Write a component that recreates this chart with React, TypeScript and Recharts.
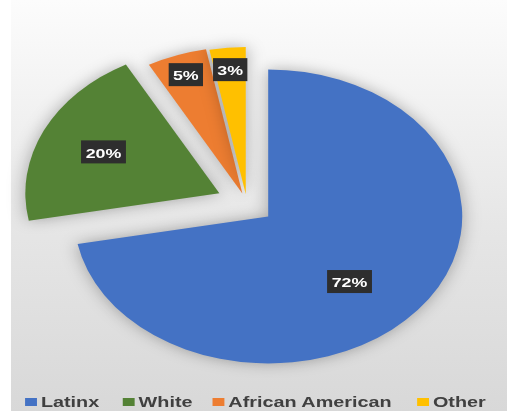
import { PieChart, Pie, Cell, Legend } from "recharts";

const categories = ["Latinx", "White", "African American", "Other"];
const shares = [72, 20, 5, 3];
const percentLabels = ["72%", "20%", "5%", "3%"];
const colors = ["#4472C4", "#548235", "#ED7D31", "#FFC000"];

// how far each slice is pulled out, and where its label sits
const explode = [21, 23, 10, 9];
const labelRadius = [0.61, 0.66, 0.86, 0.85];
const labelAngleShift = [-7, 0, 0, 0];
// legend item left edges (unstretched px)
const legendLeft = [19, 93, 161, 316];

const data = categories.map((name, i) => ({ name, value: shares[i] }));

// the original picture is stretched sideways, so draw narrow and scale
const STRETCH = 1.32;
const W = 392;
const H = 411;
const CX = 182;
const CY = 198;
const R = 147;
const RAD = Math.PI / 180;

const total = shares.reduce((a, b) => a + b, 0);
const midAngles = shares.map((v, i) => {
  const before = shares.slice(0, i).reduce((a, b) => a + b, 0);
  return 90 - ((before + v / 2) / total) * 360;
});

const renderLabel = (slice: number) => (props: any) => {
  if (props.index !== slice) return <g />;
  const { cx, cy, midAngle, outerRadius } = props;
  const r = outerRadius * labelRadius[slice];
  const a = (midAngle + labelAngleShift[slice]) * RAD;
  const x = cx + r * Math.cos(-a);
  const y = cy + r * Math.sin(-a);
  const text = percentLabels[slice];
  const bw = text.length * 8 + 10;
  return (
    <g>
      <rect x={x - bw / 2} y={y - 11.5} width={bw} height={23} fill="#2e2e2e" />
      <text
        x={x}
        y={y + 1}
        textAnchor="middle"
        dominantBaseline="central"
        fill="#ffffff"
        fontWeight="bold"
        fontSize={13.5}
        fontFamily="Liberation Sans, Arial, sans-serif"
      >
        {text}
      </text>
    </g>
  );
};

const renderLegend = () => (
  <div
    style={{
      position: "relative",
      height: 18,
      fontFamily: "Liberation Sans, Arial, sans-serif",
      fontWeight: "bold",
      fontSize: 15,
      color: "#404040",
    }}
  >
    {categories.map((name, i) => (
      <div
        key={name}
        style={{
          position: "absolute",
          left: legendLeft[i],
          top: 0,
          display: "flex",
          alignItems: "center",
          whiteSpace: "nowrap",
        }}
      >
        <span
          style={{
            display: "inline-block",
            width: 9,
            height: 8,
            background: colors[i],
            marginRight: 3,
          }}
        />
        <span>{name}</span>
      </div>
    ))}
  </div>
);

export default function App() {
  return (
    <div
      style={{
        position: "absolute",
        left: 0,
        top: 0,
        width: 517,
        height: 411,
        background: "#ffffff",
        overflow: "hidden",
      }}
    >
      <div
        style={{
          position: "absolute",
          left: 11,
          top: 0,
          width: 496,
          height: 411,
          background: "linear-gradient(#fcfcfc, #e6e6e6 55%, #d8d8d8)",
        }}
      />
      <div
        style={{
          position: "absolute",
          left: 0,
          top: 0,
          width: W,
          height: H,
          transform: `scaleX(${STRETCH})`,
          transformOrigin: "0 0",
        }}
      >
        <PieChart width={W} height={H}>
          {categories.map((name, slice) => (
            <Pie
              key={name}
              data={data}
              dataKey="value"
              nameKey="name"
              cx={CX + explode[slice] * Math.cos(-midAngles[slice] * RAD)}
              cy={CY + explode[slice] * Math.sin(-midAngles[slice] * RAD)}
              outerRadius={R}
              startAngle={90}
              endAngle={-270}
              stroke="none"
              labelLine={false}
              label={renderLabel(slice)}
              isAnimationActive={false}
            >
              {data.map((d, i) => (
                <Cell
                  key={d.name}
                  fill={i === slice ? colors[i] : "transparent"}
                  stroke="none"
                  style={
                    i === slice
                      ? { filter: "drop-shadow(0px 0px 7px rgba(0,0,0,0.3))" }
                      : undefined
                  }
                />
              ))}
            </Pie>
          ))}
          <Legend content={renderLegend} wrapperStyle={{ top: 393, left: 0, width: W }} />
        </PieChart>
      </div>
    </div>
  );
}
